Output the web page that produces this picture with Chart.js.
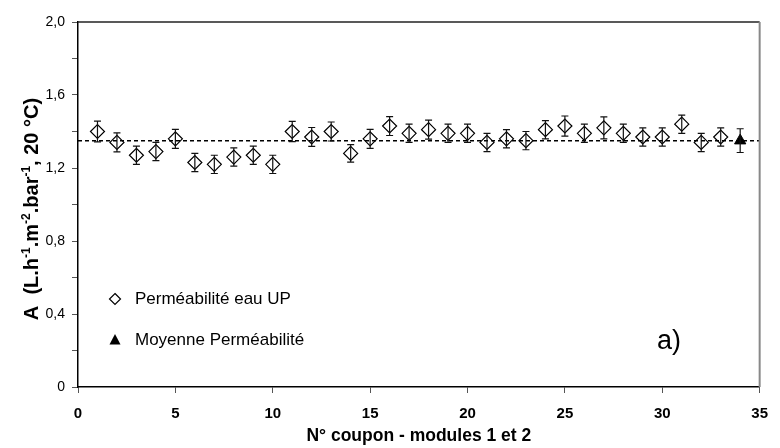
<!doctype html>
<html lang="fr">

<head>
    <meta charset="utf-8">
    <title>Perméabilité - modules 1 et 2</title>
    <style>
        body { margin: 0; background: #fff; }
        #wrap { width: 780px; height: 448px; position: relative; }
    </style>
</head>

<body>
    <div id="wrap"><canvas id="chart"></canvas></div>

    <script src="https://cdn.jsdelivr.net/npm/chart.js"></script>
    <script>
        // coupon numbers and measured permeability (L.h-1.m-2.bar-1 at 20 °C)
        const coupons = [1, 2, 3, 4, 5, 6, 7, 8, 9, 10, 11, 12, 13, 14, 15, 16, 17,
            18, 19, 20, 21, 22, 23, 24, 25, 26, 27, 28, 29, 30, 31, 32, 33];
        const permeability = [1.40, 1.34, 1.27, 1.29, 1.36, 1.23, 1.22, 1.26, 1.27, 1.22, 1.40, 1.37, 1.40, 1.28, 1.36, 1.43, 1.39,
            1.41, 1.39, 1.39, 1.34, 1.36, 1.35, 1.41, 1.43, 1.39, 1.42, 1.39, 1.37, 1.37, 1.44, 1.34, 1.37];
        const permeabilityErr = [0.057, 0.052, 0.05, 0.05, 0.052, 0.05, 0.05, 0.05, 0.05, 0.05, 0.055, 0.052, 0.052, 0.048, 0.052, 0.052, 0.05,
            0.052, 0.05, 0.05, 0.05, 0.05, 0.05, 0.05, 0.055, 0.05, 0.06, 0.05, 0.05, 0.05, 0.05, 0.05, 0.05];
        const meanCoupon = [34];
        const meanValue = [1.35];
        const meanErr = [0.065];
        const meanLineX = [0, 35];

        const xTicksStep = 5;
        const yTicksStep = 0.2;

        const FONT = '"Liberation Sans", Arial, sans-serif';

        const errorBars = {
            id: 'errorBars',
            afterDatasetsDraw(chart) {
                const { ctx, scales: { x, y } } = chart;
                ctx.save();
                ctx.strokeStyle = '#111';
                ctx.lineWidth = 1.2;
                const draw = (xs, ys, es) => {
                    xs.forEach((v, i) => {
                        const px = x.getPixelForValue(v);
                        const top = y.getPixelForValue(ys[i] + es[i]);
                        const bot = y.getPixelForValue(ys[i] - es[i]);
                        ctx.beginPath();
                        ctx.moveTo(px, top); ctx.lineTo(px, bot);
                        ctx.moveTo(px - 3.5, top); ctx.lineTo(px + 3.5, top);
                        ctx.moveTo(px - 3.5, bot); ctx.lineTo(px + 3.5, bot);
                        ctx.stroke();
                    });
                };
                draw(coupons, permeability, permeabilityErr);
                draw(meanCoupon, meanValue, meanErr);
                ctx.restore();
            }
        };

        const decorations = {
            id: 'decorations',
            afterDraw(chart) {
                const { ctx, chartArea: a } = chart;
                ctx.save();
                // top and right frame
                ctx.lineWidth = 1.5;
                ctx.strokeStyle = '#222';
                ctx.beginPath(); ctx.moveTo(a.left, a.top); ctx.lineTo(a.right, a.top); ctx.stroke();
                ctx.strokeStyle = '#888';
                ctx.lineWidth = 2;
                ctx.beginPath(); ctx.moveTo(a.right, a.top); ctx.lineTo(a.right, a.bottom); ctx.stroke();

                // x title
                ctx.fillStyle = '#000';
                ctx.font = 'bold 17.5px ' + FONT;
                ctx.textAlign = 'center';
                ctx.textBaseline = 'middle';
                ctx.fillText('N° coupon - modules 1 et 2', (a.left + a.right) / 2, 436);

                // y title with superscripts
                const parts = [['A  (L.h', 0], ['-1', 1], ['.m', 0], ['-2', 1], ['.bar', 0], ['-1', 1], [', 20 °C)', 0]];
                const big = 'bold 20px ' + FONT, small = 'bold 12px ' + FONT;
                let total = 0;
                parts.forEach(([t, s]) => { ctx.font = s ? small : big; total += ctx.measureText(t).width; });
                ctx.translate(31, 209);
                ctx.rotate(-Math.PI / 2);
                ctx.textAlign = 'left';
                ctx.textBaseline = 'alphabetic';
                let cx = -total / 2;
                parts.forEach(([t, s]) => {
                    ctx.font = s ? small : big;
                    ctx.fillText(t, cx, s ? -1 : 7);
                    cx += ctx.measureText(t).width;
                });
                ctx.setTransform(1, 0, 0, 1, 0, 0);

                // legend inside plot
                ctx.font = '17px ' + FONT;
                ctx.textAlign = 'left';
                ctx.textBaseline = 'middle';
                ctx.fillStyle = '#000';
                ctx.fillText('Perméabilité eau UP', 135, 299);
                ctx.fillText('Moyenne Perméabilité', 135, 340);
                ctx.lineWidth = 1.2;
                ctx.strokeStyle = '#000';
                ctx.fillStyle = '#fff';
                ctx.beginPath();
                ctx.moveTo(115, 293.5); ctx.lineTo(120.5, 299); ctx.lineTo(115, 304.5); ctx.lineTo(109.5, 299); ctx.closePath();
                ctx.fill(); ctx.stroke();
                ctx.fillStyle = '#000';
                ctx.beginPath();
                ctx.moveTo(115, 334); ctx.lineTo(120.5, 344.5); ctx.lineTo(109.5, 344.5); ctx.closePath();
                ctx.fill();

                // panel label
                ctx.font = '27px ' + FONT;
                ctx.textAlign = 'center';
                ctx.fillText('a)', 669, 342);
                ctx.restore();
            }
        };

        new Chart(document.getElementById('chart'), {
            type: 'scatter',
            data: {
                datasets: [
                    {
                        label: 'Perméabilité eau UP',
                        data: coupons.map((c, i) => ({ x: c, y: permeability[i] })),
                        pointStyle: 'rectRot',
                        pointRadius: 7,
                        backgroundColor: 'rgba(255,255,255,0)',
                        borderColor: '#000',
                        borderWidth: 1.2,
                        order: 1
                    },
                    {
                        label: 'Moyenne Perméabilité',
                        data: meanCoupon.map((c, i) => ({ x: c, y: meanValue[i] })),
                        pointStyle: 'triangle',
                        pointRadius: 6.5,
                        backgroundColor: '#000',
                        borderColor: '#000',
                        borderWidth: 1,
                        order: 0
                    },
                    {
                        label: 'moyenne',
                        data: meanLineX.map(v => ({ x: v, y: meanValue[0] })),
                        showLine: true,
                        borderColor: '#000',
                        borderWidth: 1.5,
                        borderDash: [4, 3],
                        pointRadius: 0,
                        order: 2
                    }
                ]
            },
            options: {
                responsive: true,
                maintainAspectRatio: false,
                animation: false,
                layout: { padding: { top: 22, right: 11, left: 0, bottom: 0 } },
                plugins: {
                    legend: { display: false },
                    tooltip: { enabled: false }
                },
                scales: {
                    x: {
                        type: 'linear',
                        min: 0,
                        max: 35,
                        afterFit: s => { s.height = 61; },
                        ticks: {
                            stepSize: xTicksStep,
                            color: '#000',
                            padding: 12,
                            font: { family: FONT, size: 15, weight: 'bold' }
                        },
                        grid: { drawOnChartArea: false, tickLength: 6, color: '#555' },
                        border: { color: '#000', width: 1.5 }
                    },
                    y: {
                        min: 0,
                        max: 2,
                        afterFit: s => { s.width = 78; },
                        ticks: {
                            stepSize: yTicksStep,
                            color: '#000',
                            padding: 7,
                            font: { family: FONT, size: 14 },
                            callback: v => {
                                const k = Math.round(v * 10);
                                if (k % 4 !== 0) return '';
                                return k === 0 ? '0' : (k / 10).toFixed(1).replace('.', ',');
                            }
                        },
                        grid: { drawOnChartArea: false, tickLength: 6, color: '#555' },
                        border: { color: '#000', width: 1.5 }
                    }
                }
            },
            plugins: [errorBars, decorations]
        });
    </script>
</body>

</html>
